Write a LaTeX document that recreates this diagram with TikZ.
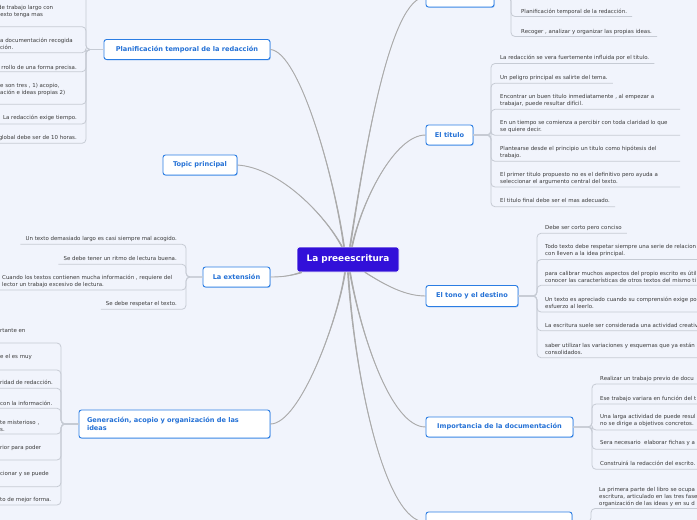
\documentclass[tikz,border=0pt]{standalone}
\usepackage{fontspec}
\setmainfont{DejaVu Sans}
\usetikzlibrary{shadows}
\definecolor{bg}{HTML}{F1F4FC}
\definecolor{rootc}{HTML}{3210D9}
\definecolor{topicc}{HTML}{2B7DE3}
\definecolor{topict}{HTML}{2471D6}
\definecolor{shadowc}{HTML}{9CC2F2}
\definecolor{leaft}{HTML}{3A3A3A}
\definecolor{linec}{HTML}{C6CBD4}
\definecolor{branchc}{HTML}{ABABAB}
\tikzset{
  rootbox/.style={fill=rootc, draw=white, line width=0.6pt, rounded corners=2.5pt,
    text=white, font=\bfseries\fontsize{8.9}{10}\selectfont,
    minimum width=102pt, minimum height=25pt, inner sep=0pt},
  topicbox/.style={fill=white, draw=topicc, line width=0.9pt, rounded corners=2.5pt,
    text=topict, font=\bfseries\fontsize{6.6}{8.4}\selectfont,
    minimum height=20pt, inner sep=0pt,
    drop shadow={shadow xshift=0.7pt, shadow yshift=-0.8pt, fill=shadowc, opacity=1}},
  leaf/.style={font=\fontsize{5.45}{7}\selectfont, text=leaft, inner xsep=5pt,
    inner ysep=0pt, align=left},
  link/.style={draw=linec, line width=0.8pt, rounded corners=4pt},
  branch/.style={draw=branchc, line width=0.9pt}
}
% tapered branch: #1 start coordinate name, #2 and #3 controls, #4 end
\newcommand\taperbranch[5][xshift]{%
  \fill[branchc] ([#1=-0.9pt]#2) .. controls ([#1=-0.5pt]#3) and (#4) .. (#5)
     .. controls (#4) and ([#1=0.5pt]#3) .. ([#1=0.9pt]#2) -- cycle;
  \draw[branch] (#2) .. controls (#3) and (#4) .. (#5);}
\begin{document}
\begin{tikzpicture}[x=1pt,y=-1pt]
\useasboundingbox (0,0) rectangle (697,520);
\fill[bg] (0,0) rectangle (697,520);
\clip (0,0) rectangle (697,520);

% ---------- main nodes ----------
\node[rootbox] (root) at (348,259.5) {La preeescritura};
\node[topicbox, minimum width=166pt] (plan) at (187,49.5) {Planificación temporal de la redacción};
\node[topicbox, minimum width=74pt] (topic) at (200,165) {Topic principal};
\node[topicbox, minimum width=67pt] (ext) at (236.5,277) {La extensión};
\node[topicbox, minimum height=28pt, text width=175pt, inner xsep=8pt, align=left] (gen) at (174.5,424) {Generación, acopio y organización de las\\ideas};
\node[topicbox, minimum width=68pt] (intro) at (460,-3) {Introducción};
\node[topicbox, minimum width=47pt] (tit) at (449.5,135) {El titulo};
\node[topicbox, minimum width=92pt, minimum height=21pt] (tono) at (472,296) {El tono y el destino};
\node[topicbox, minimum width=147pt] (impo) at (499.5,427) {Importancia de la documentación};
\node[topicbox, minimum width=146pt] (last) at (499,522) {};

% ---------- branches from the root ----------
\coordinate (sPlan) at ([xshift=-4pt]root.north);
\coordinate (sTopic) at ([xshift=-6pt]root.north);
\coordinate (sIntro) at ([xshift=2pt]root.north);
\coordinate (sTit) at ([xshift=4pt]root.north);
\coordinate (sTono) at ([xshift=17pt]root.south);
\coordinate (sImpo) at ([xshift=2pt]root.south);
\coordinate (sLast) at (root.south);
\coordinate (sGen) at ([xshift=-3pt]root.south);
\coordinate (sExt) at ([xshift=5pt]root.south west);
\taperbranch{sPlan}{335,180}{300,52}{plan.east}
\taperbranch{sTopic}{325,215}{280,168}{topic.east}
\taperbranch{sIntro}{365,150}{390,-3}{intro.west}
\taperbranch{sTit}{362,200}{395,135}{tit.west}
\taperbranch{sTono}{385,285}{405,296}{tono.west}
\taperbranch{sImpo}{360,330}{390,427}{impo.west}
\taperbranch{sLast}{355,380}{385,522}{last.west}
\taperbranch{sGen}{338,320}{300,424}{gen.east}
\taperbranch[yshift]{sExt}{290,276}{282,277}{ext.east}

% ---------- Introducción ----------
\node[leaf, anchor=west] (i1) at (516,11.7) {Planificación temporal de la redacción.};
\node[leaf, anchor=west] (i2) at (516,31.7) {Recoger , analizar y organizar las propias ideas.};
\draw[link] (intro.east) -| (511,16.5) -- (i1.east |- 0,16.5);
\draw[link] (intro.east) -| (511,36.5) -- (i2.east |- 0,36.5);

% ---------- El titulo ----------
\node[leaf, anchor=west] (t1) at (495,58.3) {La redacción se vera fuertemente influida por el titulo.};
\node[leaf, anchor=west] (t2) at (495,78.3) {Un peligro principal es salirte del tema.};
\node[leaf, anchor=west] (t3) at (495,100.7) {Encontrar un buen titulo inmediatamente , al empezar a\\trabajar, puede resultar difícil.};
\node[leaf, anchor=west] (t4) at (495,126.3) {En un tiempo se comienza a percibir con toda claridad lo que\\se quiere decir.};
\node[leaf, anchor=west] (t5) at (495,152.5) {Plantearse desde el principio un titulo como hipótesis del\\trabajo.};
\node[leaf, anchor=west] (t6) at (495,178.2) {El primer titulo propuesto no es el definitivo pero ayuda a\\seleccionar el argumento central del texto.};
\node[leaf, anchor=west] (t7) at (495,200.7) {El titulo final debe ser el mas adecuado.};
\draw[link] (tit.east) -| (491,63.5) -- (t1.east |- 0,63.5);
\draw[link] (tit.east) -| (491,83.3) -- (t2.east |- 0,83.3);
\draw[link] (tit.east) -| (491,109.3) -- (680,109.3);
\draw[link] (tit.east) -| (491,135.3) -- (680,135.3);
\draw[link] (tit.east) -| (491,161.3) -- (680,161.3);
\draw[link] (tit.east) -| (491,187) -- (680,187);
\draw[link] (tit.east) -| (491,206.7) -- (t7.east |- 0,206.7);

% ---------- El tono y el destino ----------
\node[leaf, anchor=west] (n1) at (540,228.3) {Debe ser corto pero conciso};
\node[leaf, anchor=west] (n2) at (540,250.8) {Todo texto debe respetar siempre una serie de relacion\\con lleven a la idea principal.};
\node[leaf, anchor=west] (n3) at (540,276.7) {para calibrar muchos aspectos del propio escrito es útil\\conocer las características de otros textos del mismo ti};
\node[leaf, anchor=west] (n4) at (540,303.3) {Un texto es apreciado cuando su comprensión exige po\\esfuerzo al leerlo.};
\node[leaf, anchor=west] (n5) at (540,325.7) {La escritura suele ser considerada una actividad creativ};
\node[leaf, anchor=west] (n6) at (540,349) {saber utilizar las variaciones y esquemas que ya están\\consolidados.};
\draw[link] (tono.east) -| (537,233.3) -- (n1.east |- 0,233.3);
\draw[link] (tono.east) -| (537,259.5) -- (720,259.5);
\draw[link] (tono.east) -| (537,285.3) -- (720,285.3);
\draw[link] (tono.east) -| (537,312) -- (720,312);
\draw[link] (tono.east) -| (537,330.7) -- (720,330.7);
\draw[link] (tono.east) -| (537,357.7) -- (720,357.7);

% ---------- Importancia de la documentación ----------
\node[leaf, anchor=west] (m1) at (595,379) {Realizar un trabajo previo de docu};
\node[leaf, anchor=west] (m2) at (595,399) {Ese trabajo variara en función del t};
\node[leaf, anchor=west] (m3) at (595,420) {Una larga actividad de puede resul\\no se dirige a objetivos concretos.};
\node[leaf, anchor=west] (m4) at (595,443.3) {Sera necesario\ \ elaborar fichas y a};
\node[leaf, anchor=west] (m5) at (595,463.3) {Construirá la redacción del escrito.};
\draw[link] (impo.east) -| (592,384) -- (720,384);
\draw[link] (impo.east) -| (592,404) -- (720,404);
\draw[link] (impo.east) -| (592,430) -- (720,430);
\draw[link] (impo.east) -| (592,449.3) -- (720,449.3);
\draw[link] (impo.east) -| (592,469.3) -- (720,469.3);

% ---------- last topic ----------
\node[leaf, anchor=west] (b1) at (594,496.7) {La primera parte del libro se ocupa\\escritura, articulado en las tres fase\\organización de las ideas y en su d};
\draw[link] (last.east) -| (591,508.5) -- (720,508.5);

% ---------- Planificación temporal ----------
\node[leaf, anchor=west] (p1) at (-7,11.2) {de trabajo largo con\\texto tenga mas};
\node[leaf, anchor=west] (p2) at (-5,44.2) {a documentación recogida\\ción.};
\node[leaf, anchor=east] (p3) at (82,67.7) {rrollo de una forma precisa.};
\node[leaf, anchor=west] (p4) at (-5,89.7) {e son tres , 1) acopio,\\ación e ideas propias 2)};
\node[leaf, anchor=east] (p5) at (82,118.3) {La redacción exige tiempo.};
\node[leaf, anchor=east] (p6) at (82,138.3) {global debe ser de 10 horas.};
\draw[link] (plan.west) -| (86,-15) -- (-10,-15);
\draw[link] (plan.west) -| (86,26.7) -- (-10,26.7);
\draw[link] (plan.west) -| (86,52.7) -- (-10,52.7);
\draw[link] (plan.west) -| (86,71.7) -- (-10,71.7);
\draw[link] (plan.west) -| (86,104.3) -- (-10,104.3);
\draw[link] (plan.west) -| (86,124) -- (p5.west |- 0,124);
\draw[link] (plan.west) -| (86,143.3) -- (-10,143.3);

% ---------- La extensión ----------
\node[leaf, anchor=east] (e1) at (182,239) {Un texto demasiado largo es casi siempre mal acogido.};
\node[leaf, anchor=east] (e2) at (182,258.7) {Se debe tener un ritmo de lectura buena.};
\node[leaf, anchor=west] (e3) at (-3,281.3) {Cuando los textos contienen mucha información , requiere del\\lector un trabajo excesivo de lectura.};
\node[leaf, anchor=east] (e4) at (182,304) {Se debe respetar el texto.};
\draw[link] (ext.west) -| (186,244.3) -- (e1.west |- 0,244.3);
\draw[link] (ext.west) -| (186,264.3) -- (e2.west |- 0,264.3);
\draw[link] (ext.west) -| (186,290) -- (-10,290);
\draw[link] (ext.west) -| (186,309.3) -- (e4.west |- 0,309.3);

% ---------- Generación ----------
\node[leaf, anchor=west] (g1) at (-5,331) {rtante en};
\node[leaf, anchor=west] (g2) at (-5,356.7) {e el es muy};
\node[leaf, anchor=west] (g3) at (-5,382.7) {ridad de redacción.};
\node[leaf, anchor=west] (g4) at (-5,403.3) {con la información.};
\node[leaf, anchor=west] (g5) at (-5,425.5) {te misterioso ,\\s.};
\node[leaf, anchor=west] (g6) at (-5,448) {rior para poder};
\node[leaf, anchor=west] (g7) at (-5,474) {cionar y se puede};
\node[leaf, anchor=west] (g8) at (-5,500) {to de mejor forma.};
\foreach \u in {343,370,388.3,408.3,434,460,486.7,505}
  \draw[link] (gen.west) -| (61,\u) -- (-10,\u);
\end{tikzpicture}
\end{document}
